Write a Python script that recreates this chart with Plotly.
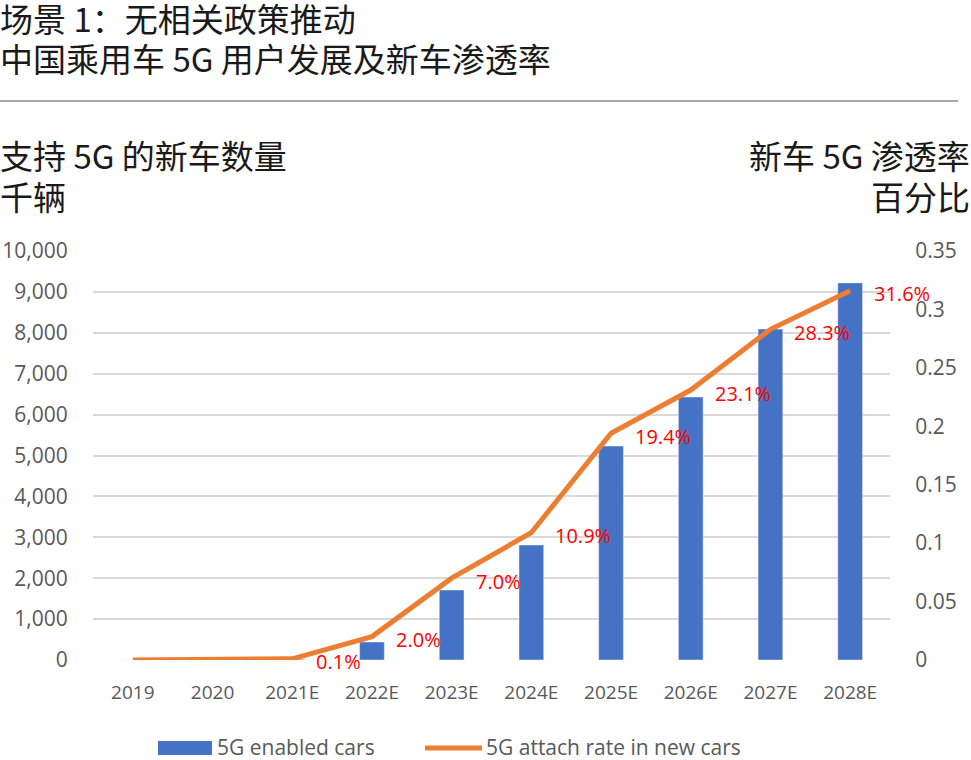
import plotly.graph_objects as go

years = ["2019", "2020", "2021E", "2022E", "2023E", "2024E", "2025E", "2026E", "2027E", "2028E"]
cars_k = [0, 0, 20, 440, 1710, 2810, 5230, 6430, 8090, 9220]
attach_rate = [0.0, 0.0, 0.001, 0.020, 0.070, 0.109, 0.194, 0.231, 0.283, 0.316]
rate_labels = ["", "", "0.1%", "2.0%", "7.0%", "10.9%", "19.4%", "23.1%", "28.3%", "31.6%"]
left_ticks = [0, 1000, 2000, 3000, 4000, 5000, 6000, 7000, 8000, 9000, 10000]
right_ticks = [0, 0.05, 0.1, 0.15, 0.2, 0.25, 0.3, 0.35]
right_tick_text = ["0", "0.05", "0.1", "0.15", "0.2", "0.25", "0.3", "0.35"]
series_names = ["5G enabled cars", "5G attach rate in new cars"]
bar_color = "#4472C4"
line_color = "#ED7D31"

W, H = 971, 760
ML, MR, MT, MB = 93, 81, 251, 100
PW = W - ML - MR
PH = H - MT - MB

def px(x):
    return (x - ML) / PW

def py(y):
    return (H - MB - y) / PH

FONT = "Open Sans, Noto Sans CJK SC, sans-serif"
CJK = "Noto Sans CJK SC, sans-serif"
GREY = "#595959"

fig = go.Figure()
fig.add_trace(go.Bar(x=years, y=cars_k, name=series_names[0], marker_color=bar_color,
                     yaxis="y", showlegend=False))
fig.add_trace(go.Scatter(x=years, y=attach_rate, name=series_names[1], mode="lines",
                         line=dict(color=line_color, width=5), yaxis="y2", showlegend=False))

annotations = []
for yr, v, t in zip(years, attach_rate, rate_labels):
    if t:
        annotations.append(dict(x=yr, y=v, xref="x", yref="y2", text=t, showarrow=False,
                                xanchor="left", yanchor="middle", xshift=22, yshift=-3,
                                font=dict(color="#FF0000", size=20, family=FONT)))

texts = [
    ("场景 1：无相关政策推动", 0, 18, "left"),
    ("中国乘用车 5G 用户发展及新车渗透率", 0, 58, "left"),
    ("支持 5G 的新车数量", 0, 155, "left"),
    ("千辆", 0, 196, "left"),
    ("新车 5G 渗透率", 970, 155, "right"),
    ("百分比", 970, 196, "right"),
]
for t, x, y, anc in texts:
    annotations.append(dict(x=px(x), y=py(y), xref="paper", yref="paper", text=t, showarrow=False,
                            xanchor=anc, yanchor="middle", xshift=(-2 if anc == "left" else 2),
                            font=dict(size=33, color="#1a1a1a", family=CJK)))

# custom legend
shapes = [
    dict(type="line", xref="paper", yref="paper", x0=px(0), x1=px(958), y0=py(101), y1=py(101),
         line=dict(color="#555555", width=1)),
    dict(type="rect", xref="paper", yref="paper", x0=px(158), x1=px(212), y0=py(741), y1=py(755),
         fillcolor=bar_color, line=dict(width=0)),
    dict(type="line", xref="paper", yref="paper", x0=px(425), x1=px(482), y0=py(748), y1=py(748),
         line=dict(color=line_color, width=5)),
]
annotations.append(dict(x=px(215), y=py(747), xref="paper", yref="paper", text=series_names[0],
                        showarrow=False, xanchor="left", yanchor="middle",
                        font=dict(size=21, color=GREY, family=FONT)))
annotations.append(dict(x=px(484), y=py(747), xref="paper", yref="paper", text=series_names[1],
                        showarrow=False, xanchor="left", yanchor="middle",
                        font=dict(size=21, color=GREY, family=FONT)))

fig.update_layout(
    width=W, height=H,
    margin=dict(l=ML, r=MR, t=MT, b=MB, autoexpand=False),
    paper_bgcolor="white", plot_bgcolor="white",
    font=dict(family=FONT, color=GREY, size=18),
    bargap=0.69,
    showlegend=False,
    xaxis=dict(type="category", range=[-0.5, len(years) - 0.5], showgrid=False, showline=False,
               ticks="outside", ticklen=15,
               tickcolor="rgba(0,0,0,0)", automargin=False,
               tickfont=dict(size=19, color=GREY)),
    yaxis=dict(range=[0, 10000], tickvals=left_ticks, tickformat=",", showgrid=True,
               gridcolor="#D9D9D9", gridwidth=2, zeroline=False, showline=False,
               ticks="outside", ticklen=20, tickcolor="rgba(0,0,0,0)", automargin=False,
               tickfont=dict(size=21, color=GREY)),
    yaxis2=dict(range=[0, 0.35], tickvals=right_ticks, ticktext=right_tick_text, overlaying="y",
                side="right", showgrid=False, zeroline=False, showline=False,
                ticks="outside", ticklen=20, tickcolor="rgba(0,0,0,0)", automargin=False,
                tickfont=dict(size=21, color=GREY)),
    annotations=annotations,
    shapes=shapes,
)

fig.write_html("out.html", config={"displayModeBar": False},
               post_script="document.body.style.margin='0';document.body.style.overflow='hidden';")
